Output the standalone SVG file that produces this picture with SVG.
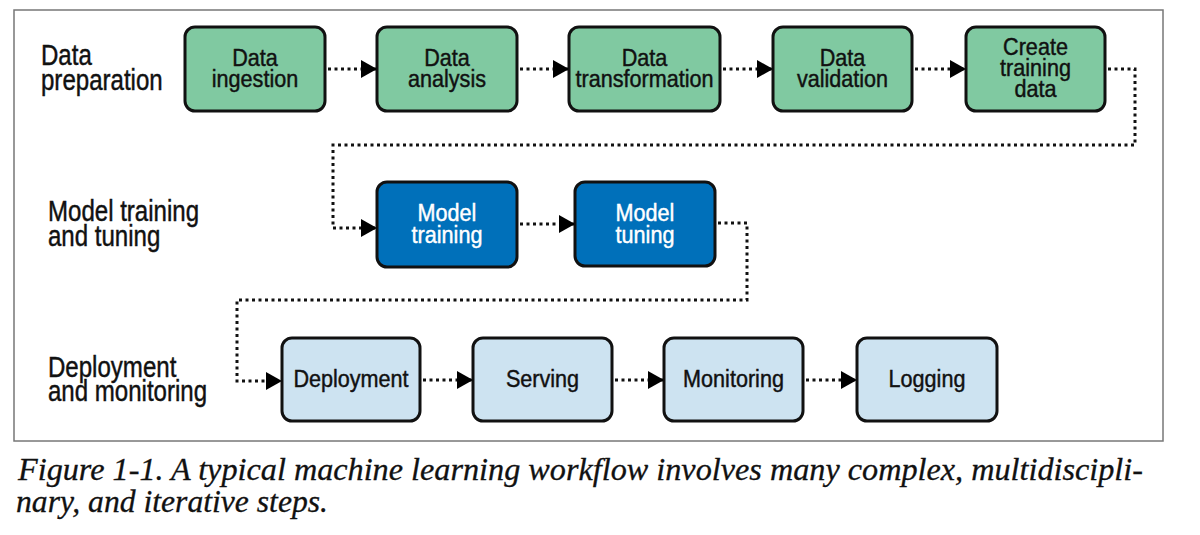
<svg xmlns="http://www.w3.org/2000/svg" width="1200" height="535" viewBox="0 0 1200 535">
<defs>
<marker id="arr" markerUnits="userSpaceOnUse" markerWidth="17" markerHeight="19" refX="16" refY="9" orient="auto">
<path d="M0,0 L16,9 L0,18 Z" fill="#000"/>
</marker>
<style>
.box{stroke:#111;stroke-width:3}
.g{fill:#80c9a1}
.b{fill:#0070ba}
.l{fill:#cde3f1}
.t{font-family:'Liberation Sans',Arial,sans-serif;font-size:24px;text-anchor:middle;fill:#111;stroke:#111;stroke-width:0.45}
.w{fill:#fff;stroke:#fff}
.lab{font-family:'Liberation Sans',Arial,sans-serif;font-size:29px;fill:#111;stroke:#111;stroke-width:0.45}
.c{fill:none;stroke:#111;stroke-width:3;stroke-dasharray:3 3.5;marker-end:url(#arr)}
.cap{font-family:'Liberation Serif',serif;font-style:italic;font-size:31px;fill:#111;stroke:#111;stroke-width:0.3}
</style>
</defs>
<rect width="1200" height="535" fill="#fff"/>
<rect x="14" y="10" width="1149" height="431" fill="none" stroke="#777" stroke-width="1.5"/>

<g id="label-data-preparation" transform="translate(41,0) scale(0.83,1)"><text class="lab" x="0" y="65">Data</text><text class="lab" x="0" y="90">preparation</text></g>
<g id="label-model-training-tuning" transform="translate(48,0) scale(0.83,1)"><text class="lab" x="0" y="221">Model training</text><text class="lab" x="0" y="246">and tuning</text></g>
<g id="label-deployment-monitoring" transform="translate(48,0) scale(0.83,1)"><text class="lab" x="0" y="377">Deployment</text><text class="lab" x="0" y="401">and monitoring</text></g>

<g id="node-data-ingestion"><rect class="box g" x="185" y="27" width="140" height="84" rx="10"/><g transform="translate(255,0) scale(0.9,1)"><text class="t" x="0" y="66">Data</text><text class="t" x="0" y="87">ingestion</text></g></g>
<g id="node-data-analysis"><rect class="box g" x="377" y="27" width="140" height="84" rx="10"/><g transform="translate(447,0) scale(0.9,1)"><text class="t" x="0" y="66">Data</text><text class="t" x="0" y="87">analysis</text></g></g>
<g id="node-data-transformation"><rect class="box g" x="569" y="27" width="151" height="84" rx="10"/><g transform="translate(644.5,0) scale(0.9,1)"><text class="t" x="0" y="66">Data</text><text class="t" x="0" y="87">transformation</text></g></g>
<g id="node-data-validation"><rect class="box g" x="773" y="27" width="139" height="84" rx="10"/><g transform="translate(842.5,0) scale(0.9,1)"><text class="t" x="0" y="66">Data</text><text class="t" x="0" y="87">validation</text></g></g>
<g id="node-create-training-data"><rect class="box g" x="966" y="27" width="139" height="84" rx="10"/><g transform="translate(1035.5,0) scale(0.9,1)"><text class="t" x="0" y="55">Create</text><text class="t" x="0" y="76">training</text><text class="t" x="0" y="97">data</text></g></g>

<g id="node-model-training"><rect class="box b" x="377" y="182" width="140" height="85" rx="10"/><g transform="translate(447,0) scale(0.9,1)"><text class="t w" x="0" y="221">Model</text><text class="t w" x="0" y="243">training</text></g></g>
<g id="node-model-tuning"><rect class="box b" x="575" y="182" width="140" height="84" rx="10"/><g transform="translate(645,0) scale(0.9,1)"><text class="t w" x="0" y="221">Model</text><text class="t w" x="0" y="243">tuning</text></g></g>

<g id="node-deployment"><rect class="box l" x="282" y="338" width="138" height="83" rx="10"/><g transform="translate(351,0) scale(0.9,1)"><text class="t" x="0" y="387">Deployment</text></g></g>
<g id="node-serving"><rect class="box l" x="473" y="338" width="139" height="83" rx="10"/><g transform="translate(542.5,0) scale(0.9,1)"><text class="t" x="0" y="387">Serving</text></g></g>
<g id="node-monitoring"><rect class="box l" x="664" y="338" width="139" height="83" rx="10"/><g transform="translate(733.5,0) scale(0.9,1)"><text class="t" x="0" y="387">Monitoring</text></g></g>
<g id="node-logging"><rect class="box l" x="857" y="338" width="140" height="83" rx="10"/><g transform="translate(927,0) scale(0.9,1)"><text class="t" x="0" y="387">Logging</text></g></g>

<g id="connectors">
<path class="c" d="M328,69 H377"/>
<path class="c" d="M520,69 H569"/>
<path class="c" d="M723,69 H773"/>
<path class="c" d="M915,69 H966"/>
<path class="c" d="M1108,69 H1135 V145 H333 V228 H377"/>
<path class="c" d="M520,224 H575"/>
<path class="c" d="M718,223 H747 V300 H237 V381 H282"/>
<path class="c" d="M423,380 H473"/>
<path class="c" d="M615,380 H664"/>
<path class="c" d="M806,380 H857"/>
</g>

<g id="caption">
<text class="cap" x="18" y="480" textLength="1125" lengthAdjust="spacingAndGlyphs">Figure 1-1. A typical machine learning workflow involves many complex, multidiscipli-</text>
<text class="cap" x="16" y="512" textLength="312" lengthAdjust="spacingAndGlyphs">nary, and iterative steps.</text>
</g>
</svg>
